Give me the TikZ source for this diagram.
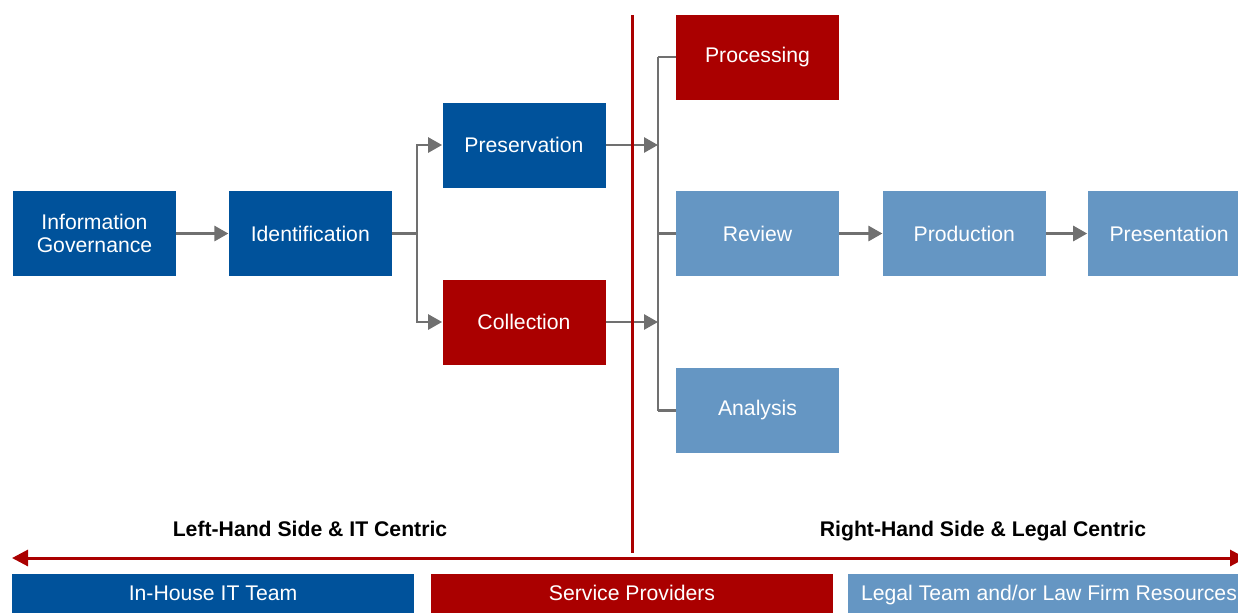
\documentclass[tikz,border=0pt]{standalone}
\usepackage{fontspec}
\setmainfont{Liberation Sans}
\usetikzlibrary{positioning,arrows.meta}

\definecolor{edblue}{RGB}{0,82,155}
\definecolor{edred}{RGB}{170,0,0}
\definecolor{edlight}{RGB}{101,150,195}
\definecolor{edgray}{RGB}{112,112,112}

\begin{document}
\begin{tikzpicture}[
        x=0.5pt, y=-0.5pt,
        phase/.style={
            draw=none,
            minimum width=81.5pt,
            minimum height=42.5pt,
            inner sep=0pt,
            align=center,
            text=white,
            font=\fontsize{10.6}{11.5}\selectfont
        },
        bar/.style={
            draw=none,
            minimum width=201pt,
            minimum height=20pt,
            inner sep=0pt,
            text height=1.6ex,
            text depth=0.45ex,
            text=white,
            font=\fontsize{10.6}{12}\selectfont
        },
        flow/.style={draw=edgray, line width=1.4pt},
        flowarrow/.style={flow, -{Triangle[length=7pt,width=7.5pt]}},
        side/.style={
            text height=1.6ex,
            text depth=0.45ex,
            font=\bfseries\fontsize{10.6}{12}\selectfont
        }
    ]
    \clip (0,0) rectangle (1238,612);

    % left hand side
    \node[phase, fill=edblue] at (94.5,233.5) (infogov) {Information\\Governance};
    \node[phase, fill=edblue, right=26pt of infogov] (ident) {Identification};
    \node[phase, fill=edblue] at (524,145) (preserve) {Preservation};
    \node[phase, fill=edred] at (524,322) (collect) {Collection};

    % right hand side
    \node[phase, fill=edred] at (757.5,57) (process) {Processing};
    \node[phase, fill=edlight] at (757.5,233.5) (review) {Review};
    \node[phase, fill=edlight] at (757.5,410.5) (analysis) {Analysis};
    \node[phase, fill=edlight, right=21.5pt of review] (produce) {Production};
    \node[phase, fill=edlight, right=20.5pt of produce] (present) {Presentation};

    % junctions
    \coordinate (split) at (417,233.5);
    \coordinate (merge) at (658,233.5);

    \draw[flowarrow] (infogov) -- (ident);
    \draw[flow] (ident) -- (split);
    \draw[flowarrow] (split) |- (preserve);
    \draw[flowarrow] (split) |- (collect);
    \draw[flowarrow] (preserve) -- (preserve -| merge);
    \draw[flowarrow] (collect) -- (collect -| merge);
    \draw[flow] (merge |- process) -- (merge |- analysis);
    \draw[flow] (merge |- process) -- (process);
    \draw[flow] (merge) -- (review);
    \draw[flow] (merge |- analysis) -- (analysis);
    \draw[flowarrow] (review) -- (produce);
    \draw[flowarrow] (produce) -- (present);

    % divide and scale
    \coordinate (divtop) at (632,15);
    \coordinate (divbot) at (632,553);
    \coordinate (scaleleft) at (12,558);
    \coordinate (scaleright) at (1246,558);
    \draw[edred, line width=1.5pt] (divtop) -- (divbot);
    \draw[edred, line width=1.5pt, {Triangle[length=8pt,width=8pt]}-{Triangle[length=8pt,width=8pt]}] (scaleleft) -- (scaleright);

    \node[side] at (310,530) (lefttitle) {Left-Hand Side \& IT Centric};
    \node[side] at (983,530) (righttitle) {Right-Hand Side \& Legal Centric};

    % who does it
    \node[bar, fill=edblue] at (213,594) (inhouse) {In-House IT Team};
    \node[bar, fill=edred] at (632,594) (vendors) {Service Providers};
    \node[bar, fill=edlight] at (1049,594) (legal) {Legal Team and/or Law Firm Resources};
\end{tikzpicture}
\end{document}
